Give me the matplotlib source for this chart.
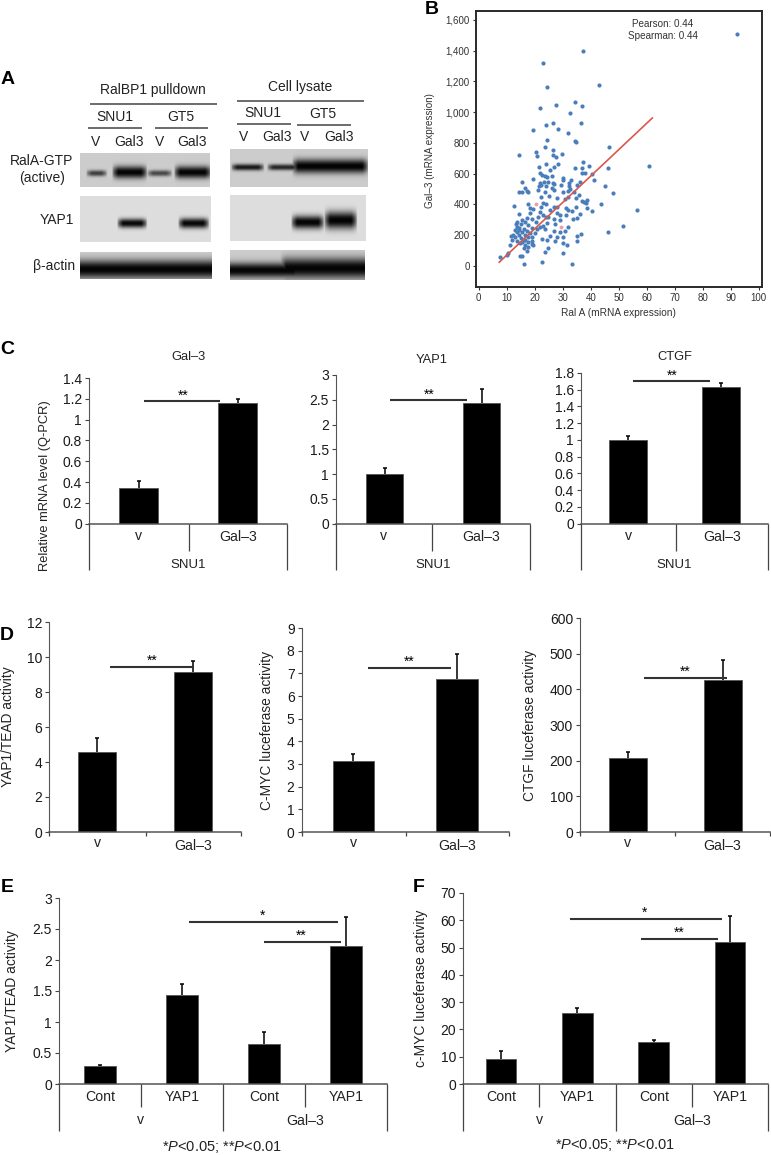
import numpy as np
import matplotlib
matplotlib.use("Agg")
import matplotlib.pyplot as plt

W, H = 771, 1155
plt.rcParams["font.family"] = ["Liberation Sans"]
plt.rcParams["mathtext.fontset"] = "custom"
plt.rcParams["mathtext.it"] = "Liberation Sans:italic"
plt.rcParams["mathtext.rm"] = "Liberation Sans"

# ---------------- DATA ----------------
ral_a = [92.4, 37.4, 22.9, 43.1, 24.2, 34.2, 36.7, 27.7, 21.7, 32.6, 26.5, 36.5, 24.0, 28.3, 19.5, 31.8,
         34.4, 34.8, 24.2, 23.7, 46.5, 20.5, 26.5, 14.2, 20.7, 29.8, 26.4, 27.6, 60.7, 37.1, 39.5, 34.3,
         36.9, 46.2, 23.9, 28.3, 27.0, 21.5, 25.4, 21.9, 22.6, 23.7, 26.3, 24.3, 38.0, 37.0, 40.4, 41.3,
         30.0, 30.2, 33.1, 32.4, 36.0, 19.5, 15.5, 21.9, 23.3, 24.8, 26.5, 27.0, 22.3, 21.5, 24.0, 29.5,
         32.1, 35.0, 45.1, 32.6, 48.1, 16.5, 17.1, 14.5, 15.4, 17.7, 23.8, 21.1, 26.0, 26.9, 30.2, 31.8,
         34.0, 35.7, 22.4, 25.1, 28.1, 30.7, 31.8, 34.8, 38.8, 36.8, 37.6, 38.3, 43.7, 17.6, 12.6, 23.1,
         24.0, 22.4, 26.7, 27.9, 31.0, 34.6, 38.8, 40.6, 56.4, 18.3, 19.5, 21.9, 25.5, 32.0, 33.2, 14.2,
         18.3, 23.1, 24.9, 27.9, 29.0, 31.1, 33.8, 36.2, 35.0, 21.3, 17.1, 18.9, 15.4, 13.6, 16.5, 20.5,
         23.9, 27.0, 29.0, 13.3, 15.0, 17.7, 21.9, 23.1, 24.3, 27.3, 32.0, 51.7, 13.6, 14.5, 16.0, 18.9,
         20.7, 23.7, 26.7, 29.0, 30.8, 46.0, 36.4, 35.0, 15.4, 17.1, 13.6, 12.1, 11.5, 14.5, 16.5, 18.9,
         25.5, 27.9, 30.2, 15.0, 17.7, 22.5, 11.8, 13.6, 16.0, 18.9, 24.3, 27.3, 35.2, 30.2, 11.2, 14.8,
         16.5, 18.9, 31.4, 16.0, 17.7, 17.1, 24.9, 23.5, 30.2, 10.6, 10.0, 7.4, 14.8, 15.4, 16.0, 22.6,
         33.3, 14.2, 18.3, 19.5, 20.1, 15.4, 17.7, 16.5, 13.0, 13.0]
gal_3 = [1509, 1400, 1320, 1179, 1166, 1064, 1043, 1045, 1030, 993, 932, 932, 915, 893, 882, 865,
         815, 804, 817, 772, 776, 741, 757, 720, 715, 728, 720, 711, 652, 674, 650, 637,
         635, 635, 663, 665, 646, 644, 624, 603, 592, 585, 583, 581, 607, 603, 598, 557,
         572, 557, 557, 540, 546, 564, 548, 542, 544, 548, 542, 533, 525, 520, 520, 525,
         520, 525, 520, 503, 473, 509, 490, 483, 479, 483, 479, 492, 505, 494, 483, 488,
         479, 460, 451, 455, 444, 434, 451, 444, 429, 421, 416, 412, 405, 403, 388, 408,
         403, 386, 386, 382, 377, 382, 375, 360, 364, 375, 369, 353, 364, 364, 360, 336,
         343, 332, 321, 343, 332, 332, 304, 338, 310, 321, 310, 306, 299, 288, 288, 288,
         316, 304, 299, 273, 273, 267, 256, 262, 282, 273, 256, 262, 256, 245, 238, 245,
         238, 241, 230, 223, 228, 219, 208, 195, 223, 230, 223, 202, 195, 202, 202, 191,
         195, 186, 191, 180, 186, 178, 169, 165, 169, 165, 169, 165, 163, 147, 137, 147,
         137, 143, 137, 115, 121, 100, 119, 91, 87, 82, 72, 61, 67, 65, 13, 26,
         11, 234, 212, 137, 212, 158, 158, 169, 234, 186]
pink_x = [20.5, 29.5]
pink_y = [403, 256]
fit_x = [7.3, 62.0]
fit_y = [24, 962]

c_titles = ["Gal\u20133", "YAP1", "CTGF"]
c1_vals, c1_err = [0.34, 1.16], [0.07, 0.04]
c2_vals, c2_err = [1.01, 2.43], [0.12, 0.29]
c3_vals, c3_err = [1.00, 1.63], [0.05, 0.05]

d1_vals, d1_err = [4.6, 9.15], [0.8, 0.6]
d2_vals, d2_err = [3.15, 6.75], [0.3, 1.1]
d3_vals, d3_err = [207, 425], [16, 58]

e_vals, e_err = [0.29, 1.43, 0.64, 2.23], [0.02, 0.19, 0.20, 0.47]
f_vals, f_err = [9.3, 26.0, 15.5, 52.0], [2.7, 1.8, 0.8, 9.5]

two_labels = ["v", "Gal\u20133"]
four_labels = ["Cont", "YAP1", "Cont", "YAP1"]


def make_axes(left, right, top, bottom):
    return fig.add_axes([left / W, 1 - bottom / H, (right - left) / W, (bottom - top) / H])


def bar_panel(box, vals, err, ymax, yticks, yticklabels, bar_frac):
    ax = make_axes(*box)
    x = np.arange(len(vals)) + 0.5
    tops = np.array(vals) + np.array(err)
    ax.bar(x, vals, width=bar_frac, color="black", edgecolor="#555555", linewidth=0.6, zorder=2)
    ax.vlines(x, vals, tops, color="black", lw=1.1, zorder=1)
    ax.plot(x, tops, "_", color="black", ms=3.5, mew=1.1, zorder=1)
    ax.set_xlim(0, len(vals))
    ax.set_ylim(0, ymax)
    ax.set_xticks([])
    ax.set_yticks(yticks)
    ax.set_yticklabels(yticklabels, fontsize=10, color="#1a1a1a")
    ax.tick_params(axis="y", length=3, width=0.8, pad=2, color="#444444")
    ax.patch.set_alpha(0)
    for side in ["top", "right"]:
        ax.spines[side].set_visible(False)
    ax.spines["left"].set_color("#555555")
    ax.spines["bottom"].set_color("#555555")
    ax.spines["bottom"].set_linewidth(1.1)
    return ax


def blot(x0, x1, y0, y1, bands, bg=0.84):
    xs, ys = np.meshgrid(np.arange(x0, x1, 0.5), np.arange(y0, y1, 0.5))
    img = np.full(xs.shape, bg)
    for xa, xb, yc, h, dark in bands:
        across = np.clip((xs - xa) / 6, 0, 1) * np.clip((xb - xs) / 6, 0, 1)
        along = np.exp(-np.abs((ys - yc) / h) ** 2.2)
        # overlapping lanes merge instead of darkening each other
        img = np.minimum(img, bg * (1 - dark * np.sqrt(across) * along))
    over.imshow(img, extent=[x0, x1, y1, y0], cmap="gray", vmin=0, vmax=1, aspect="auto",
                interpolation="bilinear", zorder=1)


def sig(xa, xb, y, stars, xs, ys):
    over.plot([xa, xb], [y, y], color="#333333", lw=1.5, solid_capstyle="butt")
    over.text(xs, ys, stars, ha="center", va="center", fontsize=10, color="black")


def seg(x, y0, y1, color="#444444"):
    over.plot([x, x], [y0, y1], color=color, lw=0.9, solid_capstyle="butt")


def hline(xa, xb, y):
    over.plot([xa, xb], [y, y], color="#444444", lw=1.1, solid_capstyle="butt")


fig = plt.figure(figsize=(W / 100, H / 100), dpi=100)

# overlay in image pixels, for blots, brackets and free text
over = fig.add_axes([0, 0, 1, 1], zorder=5)
over.patch.set_alpha(0)
over.axis("off")


def label(x, y, s, size=9, **kw):
    kw.setdefault("color", "#222222")
    over.text(x, y, s, ha="center", va="center", fontsize=size, **kw)


# ---------------- PANEL A ----------------
blot(80, 210, 153, 187, [(86, 107, 173, 3, 0.7), (112, 147, 172, 6, 0.98),
                         (147, 172, 173, 3, 0.65), (174, 211, 172, 6, 0.98)], bg=0.80)
blot(80, 211, 196, 242, [(117, 147, 223, 4.5, 0.97), (178, 209, 223, 5, 0.97)], bg=0.87)
blot(80, 212, 252, 279, [(70, 222, 269, 9, 0.98)], bg=0.80)
blot(230, 368, 149, 187, [(231, 264, 167, 3.2, 0.88), (267, 299, 167, 3, 0.82),
                          (292, 368, 166, 7, 0.99)], bg=0.80)
blot(230, 366, 195, 241, [(291, 324, 222, 6.5, 0.98), (324, 357, 220, 8.5, 0.99)], bg=0.87)
blot(230, 365, 250, 280, [(220, 300, 270, 7.5, 0.98), (280, 375, 268, 10, 0.98)], bg=0.80)

label(153, 90, "RalBP1 pulldown", 10)
hline(90, 217, 104)
label(115, 117, "SNU1", 10)
hline(88, 142, 128)
label(181, 117, "GT5", 10)
hline(155, 208, 128)
for px, s in zip([96, 129, 160, 192], ["V", "Gal3", "V", "Gal3"]):
    label(px, 142, s, 10)
label(300, 87, "Cell lysate", 10)
hline(237, 364, 101)
label(263, 113, "SNU1", 10)
hline(237, 291, 124)
label(323, 114, "GT5", 10)
hline(297, 351, 125)
for px, s in zip([244, 277, 305, 339], ["V", "Gal3", "V", "Gal3"]):
    label(px, 137, s, 10)
label(42, 161, "RalA-GTP", 10)
label(42, 178, "(active)", 10)
label(57, 220, "YAP1", 10)
label(54, 266, "\u03b2-actin", 10)

# ---------------- PANEL B ----------------
ax_b = make_axes(476, 762, 11, 287)
ax_b.scatter(ral_a, gal_3, s=9, color="#4a7ebb", linewidths=0, zorder=2)
ax_b.scatter(pink_x, pink_y, s=8, color="#eba0a8", linewidths=0, zorder=2)
ax_b.plot(fit_x, fit_y, color="#d9584c", lw=1.2, zorder=3)
ax_b.set_xlim(-1, 101.2)
ax_b.set_ylim(-137, 1658)
ax_b.set_xticks(np.arange(0, 101, 10))
ax_b.set_yticks(np.arange(0, 1601, 200))
ax_b.set_yticklabels([f"{v:,}" for v in range(0, 1601, 200)])
ax_b.tick_params(labelsize=7, length=2.5, width=0.8, pad=2, labelcolor="#333333", color="#333333")
for s in ax_b.spines.values():
    s.set_linewidth(1.4)
    s.set_color("#2a2a2a")
label(663, 24, "Pearson: 0.44", 7.1, color="#333333")
label(663, 36, "Spearman: 0.44", 7.1, color="#333333")
label(618, 313, "Ral A (mRNA expression)", 7.3, color="#333333")
label(430, 151, "Gal\u20133 (mRNA expression)", 7.1, rotation=90, color="#333333")

# ---------------- PANEL C ----------------
bar_panel((89, 287, 378, 523.7), c1_vals, c1_err, 1.4, np.arange(0, 1.41, 0.2),
          ["0", "0.2", "0.4", "0.6", "0.8", "1", "1.2", "1.4"], 0.4)
bar_panel((336, 530, 375, 523.7), c2_vals, c2_err, 3, np.arange(0, 3.1, 0.5),
          ["0", "0.5", "1", "1.5", "2", "2.5", "3"], 0.39)
bar_panel((581, 768, 373, 523.7), c3_vals, c3_err, 1.8, np.arange(0, 1.81, 0.2),
          ["0", "0.2", "0.4", "0.6", "0.8", "1", "1.2", "1.4", "1.6", "1.8"], 0.41)
for left, mid, right, title_x, title_y, title in zip([89, 336, 581], [189, 432, 676], [287, 530, 768],
                                                     [188, 432, 675], [357, 360, 357], c_titles):
    seg(left, 524, 570)
    seg(mid, 524, 551)
    seg(right, 524, 570)
    label((left + mid) / 2, 536, two_labels[0], 10.2)
    label((mid + right) / 2, 537, two_labels[1], 10.2)
    label((left + right) / 2, 565, "SNU1", 9.5)
    label(title_x, title_y, title, 9.3)
label(45, 486, "Relative mRNA level (Q-PCR)", 9.3, rotation=90)
sig(144, 220, 401, "**", 183, 396)
sig(390, 467, 400, "**", 429, 395)
sig(633, 710, 381, "**", 672, 376)

# ---------------- PANEL D ----------------
bar_panel((49, 241, 622, 832), d1_vals, d1_err, 12, np.arange(0, 13, 2),
          ["0", "2", "4", "6", "8", "10", "12"], 0.4)
bar_panel((301.5, 509, 628, 832), d2_vals, d2_err, 9, np.arange(0, 10, 1),
          [str(v) for v in range(10)], 0.4)
bar_panel((580, 770, 618, 832), d3_vals, d3_err, 600, np.arange(0, 601, 100),
          [str(v) for v in range(0, 601, 100)], 0.4)
for left, mid, right in zip([49, 301.5, 580], [146, 406, 675], [241, 509, 770]):
    for px in [left, mid, right]:
        seg(px, 832, 836)
    label((left + mid) / 2, 843, two_labels[0], 10.2)
    label((mid + right) / 2, 846, two_labels[1], 10.2)
label(8, 727, "YAP1/TEAD activity", 9.9, rotation=90)
label(267, 730, "C-MYC luceferase activity", 9.9, rotation=90)
label(530, 725, "CTGF luceferase activity", 9.9, rotation=90)
sig(110, 194, 667, "**", 152, 661)
sig(368, 451, 668, "**", 409, 662)
sig(644, 727, 678, "**", 685, 672)

# ---------------- PANELS E, F ----------------
bar_panel((59, 387, 898, 1084), e_vals, e_err, 3, np.arange(0, 3.1, 0.5),
          ["0", "0.5", "1", "1.5", "2", "2.5", "3"], 0.4)
bar_panel((463, 768, 893, 1084), f_vals, f_err, 70, np.arange(0, 71, 10),
          [str(v) for v in range(0, 71, 10)], 0.4)
for left, a, mid, b, right in [(59, 141, 223, 305, 387), (463, 539, 616, 692, 768)]:
    for px in [a, b]:
        seg(px, 1084, 1107)
    for px in [left, mid, right]:
        seg(px, 1084, 1131)
    for px, s in zip([(left + a) / 2, (a + mid) / 2, (mid + b) / 2, (b + right) / 2], four_labels):
        label(px, 1097, s, 10.2)
    label((left + mid) / 2, 1120, two_labels[0], 10.2)
    label((mid + right) / 2, 1121, two_labels[1], 10.2)
label(12, 991, "YAP1/TEAD activity", 10, rotation=90)
label(421, 988, "c-MYC luceferase activity", 10, rotation=90)
sig(189, 338, 922, "*", 263, 916)
sig(264, 341, 942, "**", 301, 936)
sig(570, 722, 919, "*", 645, 913)
sig(641, 718, 939, "**", 679, 933)
foot = "*$\\mathit{P}$<0.05; **$\\mathit{P}$<0.01"
label(222, 1147, foot, 10.5)
label(615, 1145, foot, 10.5)

# panel letters
for px, py, s in [(8, 80, "A"), (432, 10, "B"), (7, 350, "C"), (7, 636, "D"), (7, 888, "E"), (419, 888, "F")]:
    over.text(px, py, s, ha="center", va="center", fontsize=14, fontweight="bold", color="black")

over.set_xlim(0, W)
over.set_ylim(H, 0)
fig.savefig("out.png", dpi=100)
